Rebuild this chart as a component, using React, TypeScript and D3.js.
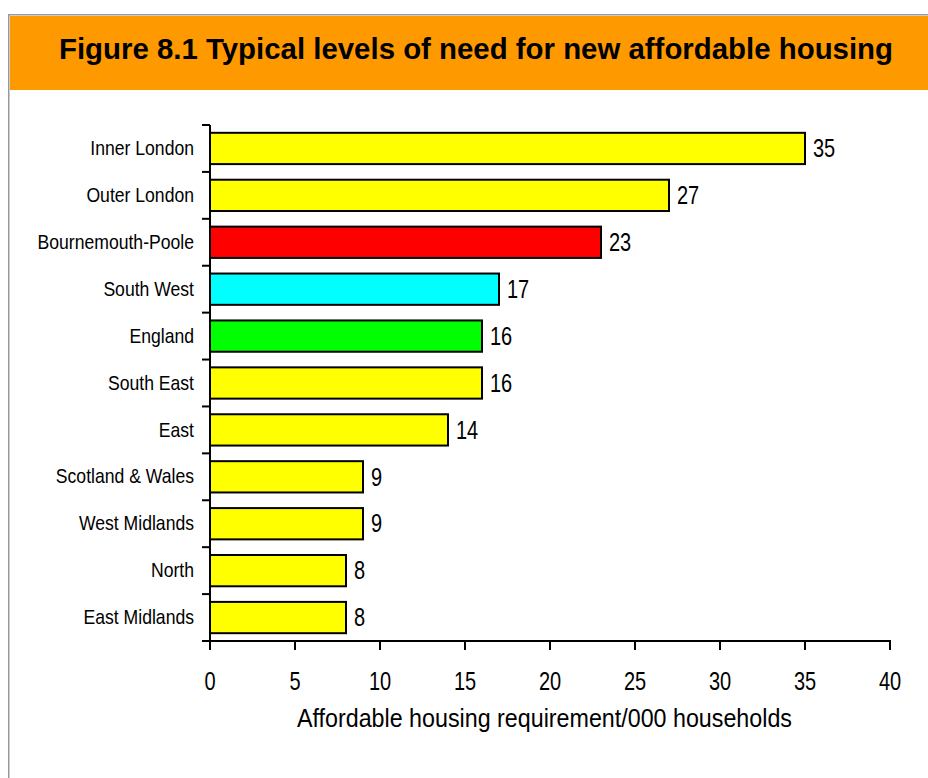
import React from "react";
import * as d3 from "d3";

const categories = [
  "Inner London",
  "Outer London",
  "Bournemouth-Poole",
  "South West",
  "England",
  "South East",
  "East",
  "Scotland & Wales",
  "West Midlands",
  "North",
  "East Midlands",
];
const values = [35, 27, 23, 17, 16, 16, 14, 9, 9, 8, 8];
const barColors = [
  "#FFFF00", "#FFFF00", "#FF0000", "#00FFFF", "#00FF00", "#FFFF00",
  "#FFFF00", "#FFFF00", "#FFFF00", "#FFFF00", "#FFFF00",
];
const xTicks = [0, 5, 10, 15, 20, 25, 30, 35, 40];
const title = "Figure 8.1 Typical levels of need for new affordable housing";
const xTitle = "Affordable housing requirement/000 households";

const W = 928;
const H = 778;
const SANS = "'Liberation Sans', Arial, sans-serif";

function NText(props: {
  x: number;
  y: number;
  dy?: string;
  anchor?: "start" | "middle" | "end";
  size: number;
  squeeze: number;
  children: React.ReactNode;
}) {
  return (
    <g transform={`translate(${props.x},${props.y}) scale(${props.squeeze},1)`}>
      <text
        x={0}
        y={0}
        dy={props.dy}
        textAnchor={props.anchor || "start"}
        fontFamily={SANS}
        fontSize={props.size}
        fill="#000"
      >
        {props.children}
      </text>
    </g>
  );
}

export default function App() {
  const x = d3.scaleLinear().domain([0, 40]).range([210, 890]);
  const y = d3
    .scaleBand<string>()
    .domain(categories)
    .range([125, 641])
    .paddingInner(0.333)
    .paddingOuter(0.1665);
  const step = y.step();
  const bounds = categories.map((_, i) => 125 + i * step);

  return (
    <svg width={W} height={H} style={{ position: "absolute", left: 0, top: 0, background: "#fff" }}>
      <rect x={10} y={16} width={W - 10} height={74} fill="#FF9900" />
      <line x1={8.75} y1={14.75} x2={W} y2={14.75} stroke="#999" strokeWidth={1.5} />
      <line x1={8.75} y1={14} x2={8.75} y2={H} stroke="#999" strokeWidth={1.5} />
      <text
        x={59}
        y={59}
        textLength={834}
        lengthAdjust="spacingAndGlyphs"
        fontFamily={SANS}
        fontWeight="bold"
        fontSize={29}
        fill="#000"
      >
        {title}
      </text>

      {categories.map((c, i) => (
        <rect
          key={c}
          x={x(0)}
          y={y(c)!}
          width={x(values[i]) - x(0)}
          height={y.bandwidth()}
          fill={barColors[i]}
          stroke="#000"
          strokeWidth={2}
        />
      ))}
      {categories.map((c, i) => (
        <NText
          key={"v" + c}
          x={x(values[i]) + 8}
          y={y(c)! + y.bandwidth() / 2}
          dy="0.35em"
          size={25}
          squeeze={0.8}
        >
          {values[i]}
        </NText>
      ))}
      {categories.map((c) => (
        <NText
          key={"l" + c}
          x={194}
          y={y(c)! + y.bandwidth() / 2}
          dy="0.33em"
          anchor="end"
          size={20}
          squeeze={0.88}
        >
          {c}
        </NText>
      ))}

      {/* y axis */}
      <line x1={x(0)} y1={125} x2={x(0)} y2={641} stroke="#000" strokeWidth={2} />
      {bounds.map((b, i) => (
        <line key={"t" + i} x1={202} y1={b} x2={x(0)} y2={b} stroke="#000" strokeWidth={2} />
      ))}

      {/* x axis */}
      <line x1={x(0) - 8} y1={641} x2={x(40) + 1} y2={641} stroke="#000" strokeWidth={2} />
      {xTicks.map((t) => (
        <g key={"x" + t}>
          <line x1={x(t)} y1={641} x2={x(t)} y2={650} stroke="#000" strokeWidth={2} />
          <NText x={x(t)} y={690} anchor="middle" size={25} squeeze={0.8}>
            {t}
          </NText>
        </g>
      ))}
      <text
        x={297}
        y={727}
        textLength={495}
        lengthAdjust="spacingAndGlyphs"
        fontFamily={SANS}
        fontSize={25}
        fill="#000"
      >
        {xTitle}
      </text>
    </svg>
  );
}
